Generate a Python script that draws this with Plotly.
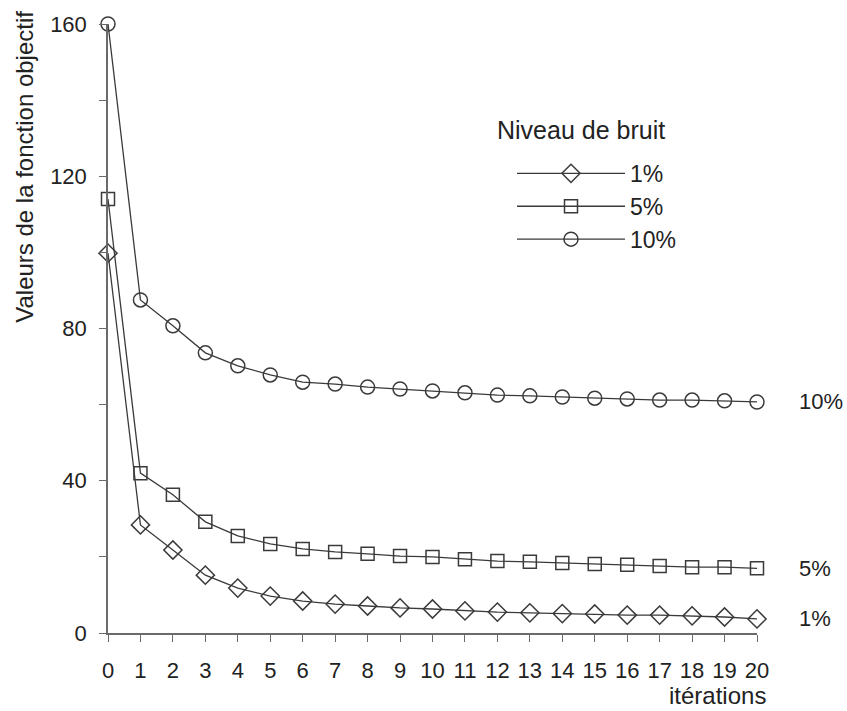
import plotly.graph_objects as go

iterations = list(range(0, 21))
bruit_1 = [99.8, 28.4, 21.8, 15.2, 11.8, 9.7, 8.4, 7.6, 7.1, 6.6, 6.3, 5.8, 5.5, 5.3, 5.1, 5.0, 4.7, 4.7, 4.5, 4.2, 3.7]
bruit_5 = [114.0, 42.0, 36.3, 29.2, 25.5, 23.4, 22.1, 21.3, 20.8, 20.2, 20.0, 19.4, 18.9, 18.7, 18.4, 18.1, 17.9, 17.6, 17.3, 17.3, 17.0]
bruit_10 = [160.0, 87.5, 80.7, 73.6, 70.2, 67.8, 65.9, 65.4, 64.6, 64.1, 63.6, 63.1, 62.5, 62.3, 62.0, 61.7, 61.5, 61.2, 61.2, 61.0, 60.7]
series_names = ["1%", "5%", "10%"]
symbols = ["diamond-open", "square-open", "circle-open"]
marker_sizes = [14, 13, 14]
y_tickvals = [0, 40, 80, 120, 160]

FONT = "Liberation Sans, Arial, sans-serif"
LINE = "#3a3a3a"
AXIS = "#6a6a6a"
TXT = "#222"

fig = go.Figure()
for name, vals, sym, ms in zip(series_names, [bruit_1, bruit_5, bruit_10], symbols, marker_sizes):
    fig.add_trace(go.Scatter(
        x=iterations, y=vals, name=name, legendgroup=name, mode="lines+markers",
        line=dict(color=LINE, width=1.3),
        marker=dict(symbol=sym, size=ms, color=LINE, line=dict(width=1.5, color=LINE)),
        cliponaxis=False,
    ))

for name, vals in zip(series_names, [bruit_1, bruit_5, bruit_10]):
    fig.add_annotation(x=1.062, xref="paper", y=vals[-1], yref="y", text=name,
                       showarrow=False, xanchor="left", yanchor="middle",
                       font=dict(family=FONT, size=22, color=TXT))

fig.add_annotation(x=-0.128, xref="paper", y=0.506, yref="paper",
                   text="Valeurs de la fonction objectif", textangle=-90,
                   showarrow=False, xanchor="center", yanchor="bottom",
                   font=dict(family=FONT, size=24, color=TXT))
fig.add_annotation(x=1.017, xref="paper", y=-0.103, yref="paper",
                   text="itérations", showarrow=False, xanchor="right", yanchor="middle",
                   font=dict(family=FONT, size=24, color=TXT))
fig.add_annotation(x=0.596, xref="paper", y=0.826, yref="paper",
                   text="Niveau de bruit", showarrow=False, xanchor="left", yanchor="middle",
                   font=dict(family=FONT, size=25, color=TXT))

fig.update_layout(
    width=847, height=711,
    margin=dict(l=108, r=90, t=24, b=78, autoexpand=False),
    paper_bgcolor="white", plot_bgcolor="white",
    font=dict(family=FONT, size=22, color=TXT),
    showlegend=True,
    hovermode=False,
    legend=dict(
        x=0.6225, y=0.79, xanchor="left", yanchor="top",
        font=dict(family=FONT, size=23, color=TXT),
        bgcolor="rgba(0,0,0,0)", itemwidth=108, tracegroupgap=0,
    ),
    xaxis=dict(
        range=[0, 20], tickmode="array", tickvals=iterations, automargin=False,
        showgrid=False, zeroline=False, showline=True, linecolor=AXIS, linewidth=1.5,
        ticks="outside", ticklen=7, tickcolor=AXIS, tickwidth=1,
        tickfont=dict(family=FONT, size=22, color=TXT),
        ticklabelstandoff=10,
    ),
    yaxis=dict(
        range=[0, 160], tickmode="array", tickvals=y_tickvals, automargin=False,
        showgrid=False, zeroline=False, showline=True, linecolor=AXIS, linewidth=1.5,
        ticks="outside", ticklen=7, tickcolor=AXIS, tickwidth=1,
        minor=dict(dtick=20, tick0=0, ticks="outside", ticklen=7, tickcolor=AXIS, tickwidth=1),
        tickfont=dict(family=FONT, size=22, color=TXT),
        ticklabelstandoff=8,
    ),
)

fig.write_html("out.html", config={"displayModeBar": False},
               post_script="document.body.style.margin='0px';")
